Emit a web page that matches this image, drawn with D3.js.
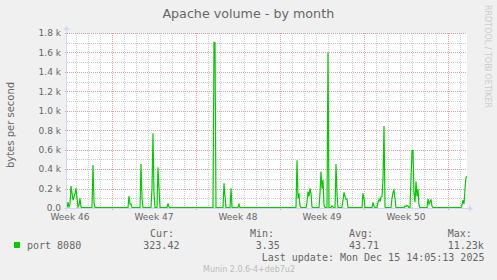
<!DOCTYPE html>
<html>
<head>
<meta charset="utf-8">
<script src="https://cdn.jsdelivr.net/npm/d3@7"></script>
<style>
  body { margin: 0; background: #f0f0f0; }
  svg { display: block; }
  text { font-family: "DejaVu Sans", sans-serif; fill: #666; }
  .mono { font-family: "DejaVu Sans Mono", monospace; font-size: 10px; }
</style>
</head>
<body>
<div id="chart"></div>
<script>
// time range of the graph (UTC)
var startTime = new Date(Date.UTC(2025, 10, 12, 6, 5));
var endTime = new Date(Date.UTC(2025, 11, 15, 14, 5));

// samples: hours after startTime, bytes per second
var sampleHours = [0, 2, 4, 6, 8, 12, 16, 18, 20, 22, 24, 26, 28, 30,
  50, 52, 54, 56,
  122, 124, 126, 128, 130,
  146, 148, 150, 152,
  168, 170, 172, 174, 176,
  180, 182, 184, 186,
  200, 202, 204, 206,
  292, 294, 296, 298,
  312, 314, 316, 318,
  326, 328, 330,
  342, 344, 346,
  458, 460, 462, 464, 466, 468,
  478, 480, 482, 484, 486, 488, 490, 492,
  504, 506, 508, 510, 512, 514, 516,
  520, 522, 524,
  528, 530, 532, 534,
  536, 538, 540, 542,
  550, 552, 554, 556, 558, 560, 562,
  590, 592, 594, 596,
  610, 612, 614, 616,
  620, 622, 624, 626, 628, 630, 632, 634, 636, 638,
  648, 650, 652, 654, 656, 658,
  674, 676, 678, 680, 682, 684,
  686, 688, 690, 692, 694, 696, 698, 700, 702, 704, 706,
  720, 722, 724, 726, 728, 730, 732,
  788, 790, 792, 794, 796, 798, 800];
var sampleBytes = [4, 60, 10, 40, 226, 80, 150, 202, 100, 10, 30, 100, 10, 4,
  4, 442, 60, 4,
  4, 123, 40, 41, 4,
  4, 452, 100, 4,
  4, 200, 768, 150, 4,
  4, 418, 200, 4,
  4, 48, 10, 4,
  4, 1704, 1700, 4,
  4, 254, 120, 4,
  4, 202, 4,
  4, 40, 4,
  4, 490, 100, 151, 20, 4,
  4, 60, 168, 120, 202, 150, 10, 4,
  4, 150, 374, 200, 288, 30, 4,
  4, 1601, 4,
  4, 20, 10, 4,
  4, 452, 150, 4,
  4, 80, 161, 120, 90, 93, 4,
  4, 151, 100, 4,
  4, 58, 20, 4,
  4, 60, 89, 70, 113, 117, 300, 843, 10, 4,
  4, 100, 160, 185, 100, 4,
  4, 20, 15, 25, 20, 4,
  4, 300, 590, 590, 150, 60, 271, 120, 192, 30, 4,
  4, 93, 40, 60, 89, 20, 4,
  4, 30, 82, 40, 200, 316, 323];

var yTickValues = [0, 200, 400, 600, 800, 1000, 1200, 1400, 1600, 1800];
var legendName = "port 8080";
var legendCur = "323.42", legendMin = "3.35", legendAvg = "43.71", legendMax = "11.23k";

var width = 497, height = 280;
var plotLeft = 67, plotRight = 467, plotTop = 33, plotBottom = 208;

var svg = d3.select("#chart").append("svg")
  .attr("width", width)
  .attr("height", height);

svg.append("rect").attr("width", width).attr("height", height).attr("fill", "#f0f0f0");

var x = d3.scaleUtc().domain([startTime, endTime]).range([plotLeft, plotRight]);
var y = d3.scaleLinear().domain([0, 1800]).range([plotBottom, plotTop]);

// canvas
svg.append("rect")
  .attr("x", plotLeft).attr("y", plotTop)
  .attr("width", plotRight - plotLeft).attr("height", plotBottom - plotTop)
  .attr("fill", "#ffffff");

var grid = svg.append("g").attr("shape-rendering", "crispEdges");

// minor grid: days and 100 steps
d3.utcDay.range(startTime, endTime).forEach(function(d) {
  var px = Math.round(x(d)) + 0.5;
  grid.append("line")
    .attr("x1", px).attr("x2", px).attr("y1", plotTop).attr("y2", plotBottom)
    .attr("stroke", "#cccccc").attr("stroke-dasharray", "1,1");
});
d3.range(100, 1801, 200).forEach(function(v) {
  var py = Math.round(y(v)) + 0.5;
  grid.append("line")
    .attr("x1", plotLeft).attr("x2", plotRight).attr("y1", py).attr("y2", py)
    .attr("stroke", "#cccccc").attr("stroke-dasharray", "1,1");
});

// major grid: weeks (sunday) and 200 steps
var sundays = d3.utcSunday.range(startTime, endTime);
sundays.forEach(function(d) {
  var px = Math.round(x(d)) + 0.5;
  grid.append("line")
    .attr("x1", px).attr("x2", px).attr("y1", plotTop).attr("y2", plotBottom + 2)
    .attr("stroke", "#eaa0a0").attr("stroke-dasharray", "1,1");
});
yTickValues.forEach(function(v) {
  var py = Math.round(y(v)) + 0.5;
  grid.append("line")
    .attr("x1", plotLeft - 2).attr("x2", plotRight).attr("y1", py).attr("y2", py)
    .attr("stroke", "#eaa0a0").attr("stroke-dasharray", "1,1");
});

// y labels
svg.append("g").selectAll("text")
  .data(yTickValues)
  .enter().append("text")
  .attr("x", 61)
  .attr("y", function(d) { return y(d) + 3.3; })
  .attr("text-anchor", "end")
  .style("font-size", "9px")
  .text(function(d) { return d == 0 ? "0.0" : (d / 1000).toFixed(1) + " k"; });

// week labels centered in the week
var weekFmt = d3.utcFormat("%V");
d3.utcSunday.range(d3.utcSunday.floor(startTime), endTime).forEach(function(d) {
  var mid = new Date(d.getTime() + 3.5 * 86400000);
  if (mid < startTime || mid > endTime) return;
  svg.append("text")
    .attr("x", x(mid))
    .attr("y", 220)
    .attr("text-anchor", "middle")
    .style("font-size", "9px")
    .text("Week " + weekFmt(mid));
});

// data line
var points = sampleHours.map(function(h, i) {
  return { date: new Date(startTime.getTime() + h * 3600000), value: sampleBytes[i] };
});
var line = d3.line()
  .x(function(d) { return x(d.date); })
  .y(function(d) { return y(d.value); });
svg.append("path")
  .datum(points)
  .attr("d", line)
  .attr("fill", "none")
  .attr("stroke", "#00cc00")
  .attr("stroke-width", 1.2)
  .attr("stroke-linejoin", "miter");

// axes with arrows
var axisColor = "#cfd6f8";
svg.append("line")
  .attr("x1", plotLeft - 3).attr("x2", plotRight + 2)
  .attr("y1", plotBottom + 0.5).attr("y2", plotBottom + 0.5)
  .attr("stroke", axisColor);
svg.append("line")
  .attr("x1", plotLeft - 0.5).attr("x2", plotLeft - 0.5)
  .attr("y1", plotBottom + 3).attr("y2", plotTop - 3)
  .attr("stroke", axisColor);
svg.append("path")
  .attr("d", "M" + (plotRight + 2) + "," + (plotBottom - 2.5) + "L" + (plotRight + 6) + "," + (plotBottom + 0.5) + "L" + (plotRight + 2) + "," + (plotBottom + 3.5) + "Z")
  .attr("fill", axisColor);
svg.append("path")
  .attr("d", "M" + (plotLeft - 3.5) + "," + (plotTop - 3) + "L" + (plotLeft - 0.5) + "," + (plotTop - 7) + "L" + (plotLeft + 2.5) + "," + (plotTop - 3) + "Z")
  .attr("fill", axisColor);

// title
svg.append("text")
  .attr("x", 248.3).attr("y", 18.3)
  .attr("text-anchor", "middle")
  .style("font-size", "12.7px")
  .text("Apache volume - by month");

// vertical label
svg.append("text")
  .attr("transform", "translate(14,125) rotate(-90)")
  .attr("text-anchor", "middle")
  .style("font-size", "10px")
  .text("bytes per second");

// watermark
svg.append("text")
  .attr("transform", "translate(485,5) rotate(90)")
  .attr("textLength", 103)
  .attr("lengthAdjust", "spacingAndGlyphs")
  .style("font-size", "8.5px")
  .style("fill", "#cccccc")
  .text("RRDTOOL / TOBI OETIKER");

// legend
svg.append("rect")
  .attr("x", 14).attr("y", 242).attr("width", 6).attr("height", 6)
  .attr("fill", "#00cc00");

function mono(tx, ty, s) {
  svg.append("text").attr("class", "mono").attr("x", tx).attr("y", ty).text(s);
}
mono(27, 249.3, legendName);
mono(150, 237.3, "Cur:");
mono(143.3, 249.3, legendCur);
mono(250, 237.3, "Min:");
mono(255.7, 249.3, legendMin);
mono(349, 237.3, "Avg:");
mono(349, 249.3, legendAvg);
mono(447.7, 237.3, "Max:");
mono(447.7, 249.3, legendMax);
mono(261.7, 260.7, "Last update: Mon Dec 15 14:05:13 2025");

svg.append("text")
  .attr("x", 203).attr("y", 272.3)
  .attr("textLength", 92)
  .attr("lengthAdjust", "spacingAndGlyphs")
  .style("font-size", "8px")
  .style("fill", "#bbbbbb")
  .text("Munin 2.0.6-4+deb7u2");
</script>
</body>
</html>
